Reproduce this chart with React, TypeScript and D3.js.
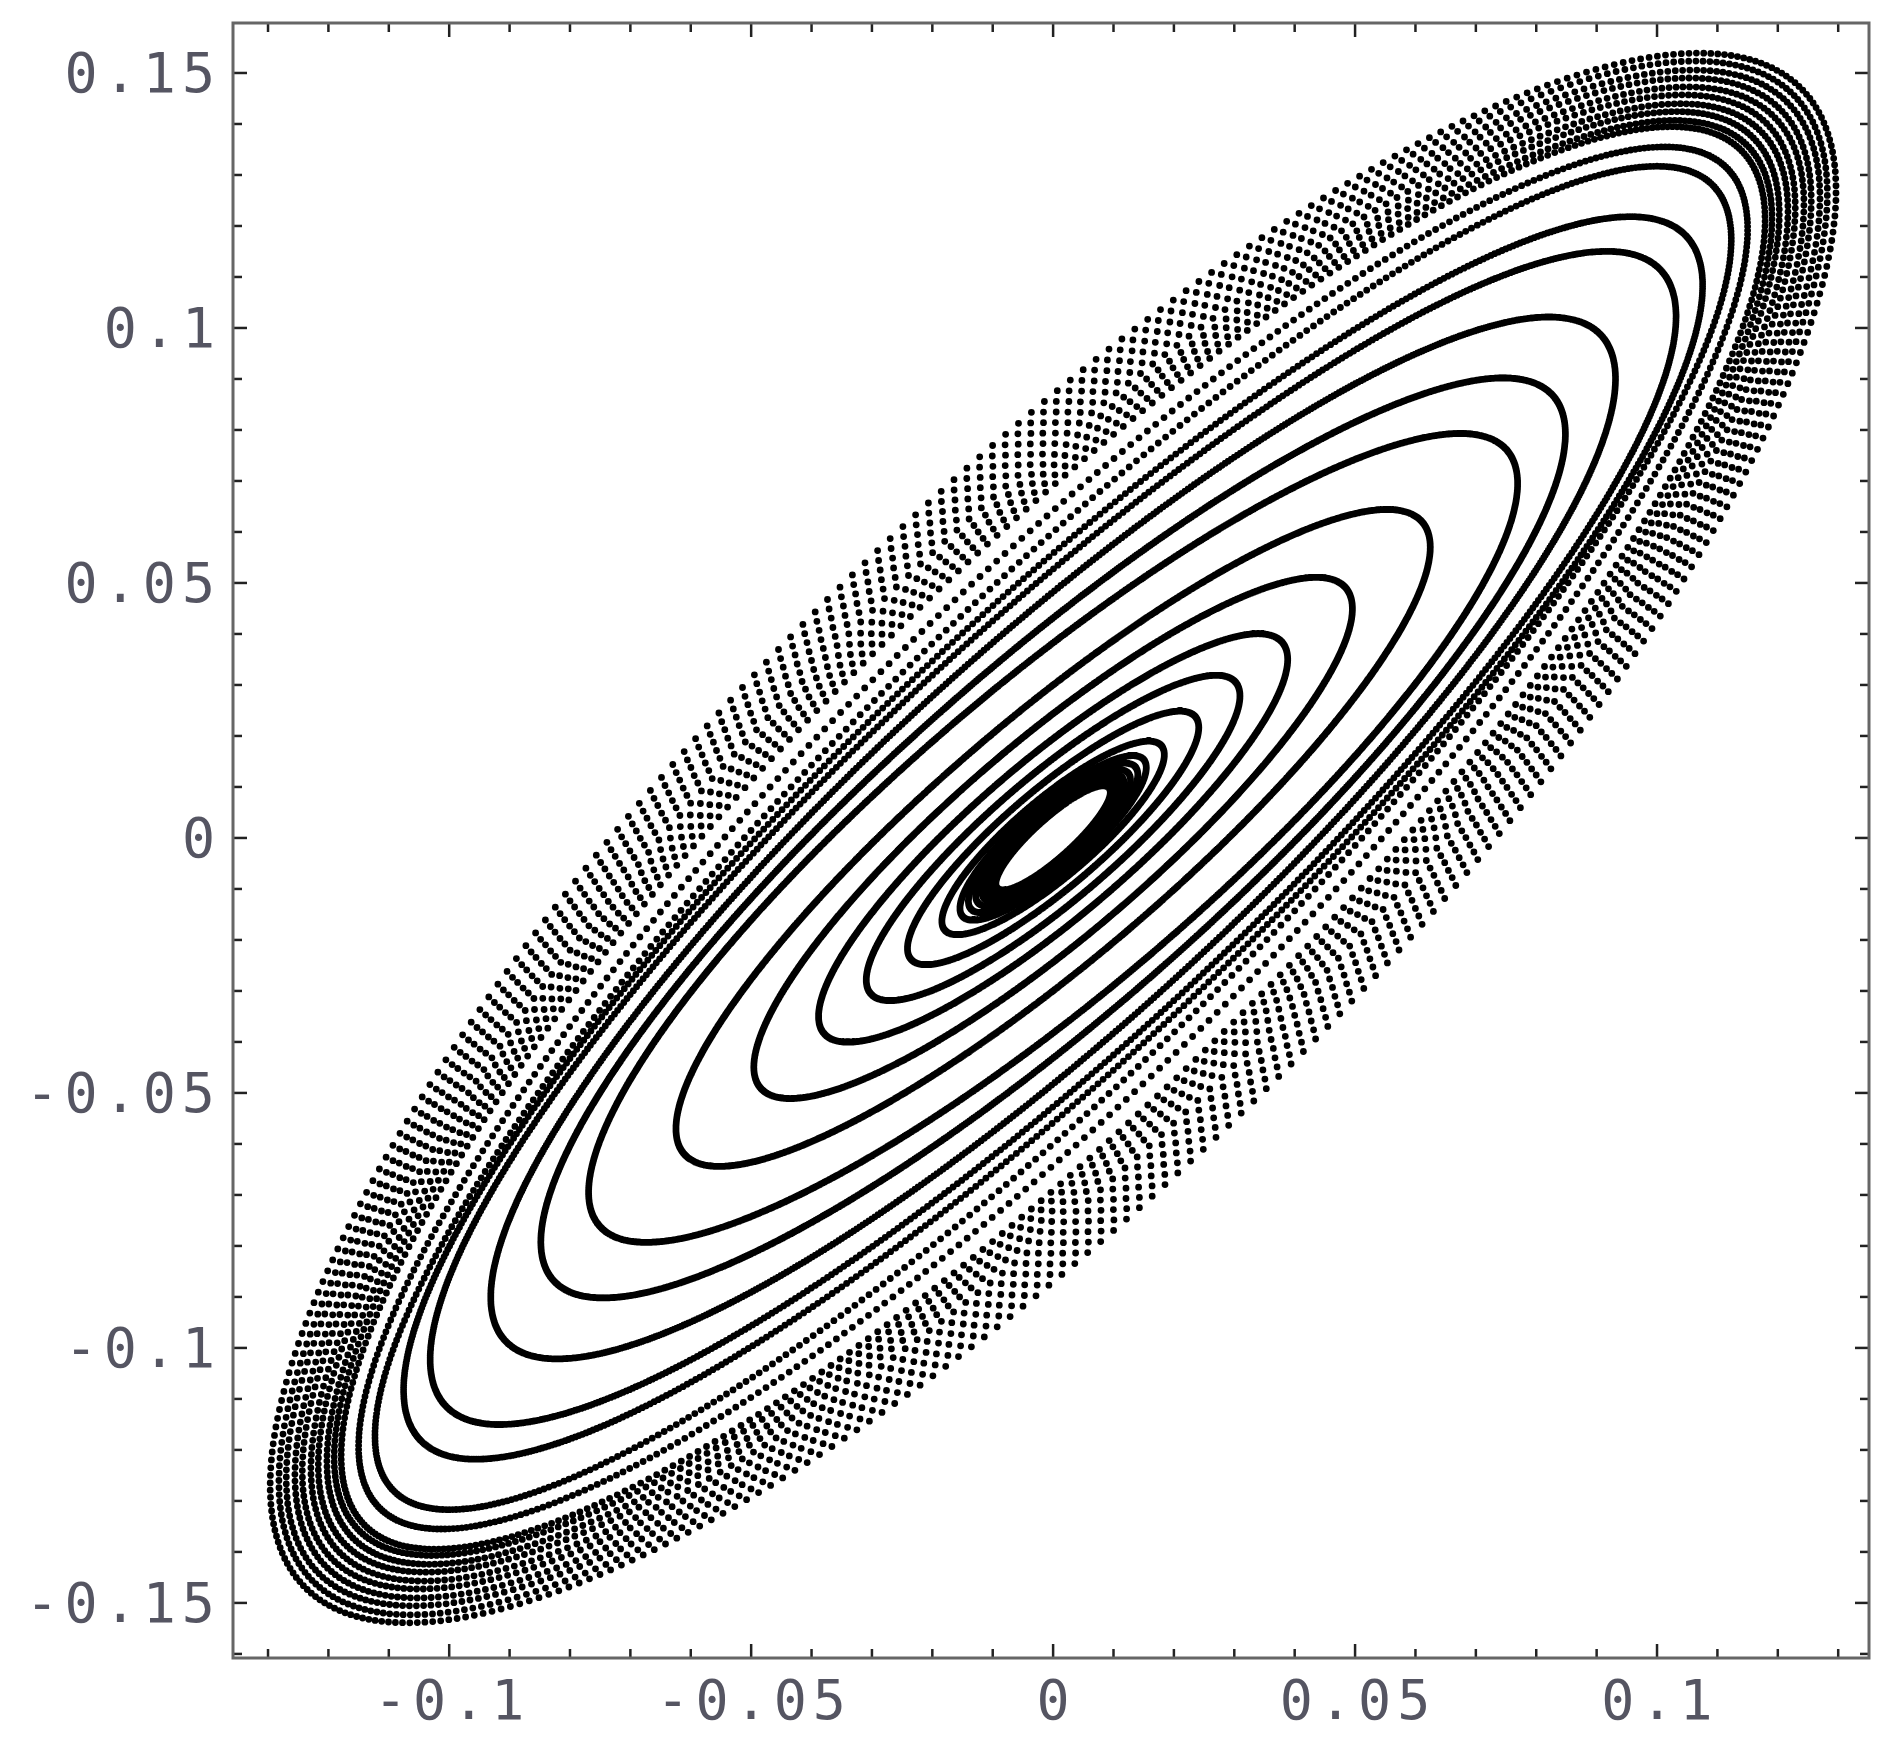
import React from "react";
import * as d3 from "d3";

// orbit rings: semi-major, semi-minor (data units), axis angle (deg), dots per orbit
const ringMajor = [
  0.1925, 0.1907, 0.1889, 0.1871, 0.1853, 0.1835, 0.1817, 0.1799, 0.1781, 0.1767,
  0.1725, 0.1684, 0.158, 0.1502, 0.1341, 0.12, 0.107, 0.0871, 0.069, 0.054, 0.043, 0.0335, 0.0255,
  0.0215, 0.0195, 0.0178, 0.0165, 0.0155, 0.0145, 0.0135,
];
const ringMinor = [
  0.0586, 0.0572, 0.0558, 0.0544, 0.053, 0.0516, 0.0502, 0.0488, 0.0474, 0.0461,
  0.0428, 0.04, 0.038, 0.0362, 0.0335, 0.0305, 0.0275, 0.0215, 0.0175, 0.014, 0.0112, 0.0088, 0.007,
  0.006, 0.0056, 0.0052, 0.0048, 0.0045, 0.004, 0.0035,
];
const ringAngle = [
  50.9, 50.9, 50.8, 50.8, 50.7, 50.7, 50.6, 50.6, 50.5, 50.5,
  50.3, 50.1, 49, 48.5, 48, 47, 46, 46, 46, 46, 46, 46, 46,
  46.5, 46.5, 46.5, 47, 47, 47.5, 47.5,
];
const ringDots = [
  380, 380, 380, 380, 380, 380, 400, 420, 440, 460,
  520, 580, 800, 900, 1100, 1600, 1600, 1600, 1600, 1600, 1400, 1200, 1000,
  900, 900, 900, 900, 900, 900, 900,
];

const xMajor = [-0.1, -0.05, 0, 0.05, 0.1];
const xMajorLabels = ["-0.1", "-0.05", "0", "0.05", "0.1"];
const yMajor = [-0.15, -0.1, -0.05, 0, 0.05, 0.1, 0.15];
const yMajorLabels = ["-0.15", "-0.1", "-0.05", "0", "0.05", "0.1", "0.15"];
const xMinor = [-0.13, -0.12, -0.11, -0.09, -0.08, -0.07, -0.06, -0.04, -0.03, -0.02, -0.01, 0.01, 0.02, 0.03, 0.04, 0.06, 0.07, 0.08, 0.09, 0.11, 0.12, 0.13];
const yMinor = [-0.16, -0.14, -0.13, -0.12, -0.11, -0.09, -0.08, -0.07, -0.06, -0.04, -0.03, -0.02, -0.01, 0.01, 0.02, 0.03, 0.04, 0.06, 0.07, 0.08, 0.09, 0.11, 0.12, 0.13, 0.14];

const W = 1895;
const H = 1749;
const L = 233, R = 1869, T = 23, B = 1658;

export default function App() {
  const x = d3.scaleLinear().domain([-0.1358, 0.1351]).range([L, R]);
  const y = d3.scaleLinear().domain([-0.1608, 0.1598]).range([B, T]);
  const dotR = 3.4;

  const paths = ringMajor.map((a, i) => {
    const b = ringMinor[i];
    const al = (ringAngle[i] * Math.PI) / 180;
    const n = ringDots[i];
    const off = (i * 0.37) / n;
    let d = "";
    for (let k = 0; k < n; k++) {
      const phi = 2 * Math.PI * (k / n + off);
      const px = a * Math.cos(phi) * Math.cos(al) - b * Math.sin(phi) * Math.sin(al);
      const py = a * Math.cos(phi) * Math.sin(al) + b * Math.sin(phi) * Math.cos(al);
      const cx = x(px), cy = y(py);
      d += `M${(cx - dotR).toFixed(1)},${cy.toFixed(1)}a${dotR},${dotR} 0 1,0 ${2 * dotR},0a${dotR},${dotR} 0 1,0 ${-2 * dotR},0`;
    }
    return d;
  });

  const font = "'DejaVu Sans Mono', monospace";
  const ls = 6;

  return (
    <svg width={W} height={H} style={{ position: "absolute", left: 0, top: 0, background: "#fff" }}>
      <g>
        {paths.map((d, i) => (
          <path key={i} d={d} fill="#000" />
        ))}
      </g>
      <g stroke="#222" strokeWidth={2.5}>
        {xMajor.map((v) => (
          <g key={"xm" + v}>
            <line x1={x(v)} x2={x(v)} y1={B} y2={B - 14} />
            <line x1={x(v)} x2={x(v)} y1={T} y2={T + 14} />
          </g>
        ))}
        {xMinor.map((v) => (
          <g key={"xn" + v}>
            <line x1={x(v)} x2={x(v)} y1={B} y2={B - 9} />
            <line x1={x(v)} x2={x(v)} y1={T} y2={T + 9} />
          </g>
        ))}
        {yMajor.map((v) => (
          <g key={"ym" + v}>
            <line x1={L} x2={L + 14} y1={y(v)} y2={y(v)} />
            <line x1={R} x2={R - 14} y1={y(v)} y2={y(v)} />
          </g>
        ))}
        {yMinor.map((v) => (
          <g key={"yn" + v}>
            <line x1={L} x2={L + 9} y1={y(v)} y2={y(v)} />
            <line x1={R} x2={R - 9} y1={y(v)} y2={y(v)} />
          </g>
        ))}
      </g>
      <rect x={L} y={T} width={R - L} height={B - T} fill="none" stroke="#666" strokeWidth={3} />
      <g fontFamily={font} fontSize={55} fill="#555562" letterSpacing={ls}>
        {xMajor.map((v, i) => (
          <text key={"xl" + v} x={x(v) + ls / 2} y={1700} textAnchor="middle" dominantBaseline="central">
            {xMajorLabels[i]}
          </text>
        ))}
        {yMajor.map((v, i) => (
          <text key={"yl" + v} x={215 + ls} y={y(v)} textAnchor="end" dominantBaseline="central">
            {yMajorLabels[i]}
          </text>
        ))}
      </g>
    </svg>
  );
}
